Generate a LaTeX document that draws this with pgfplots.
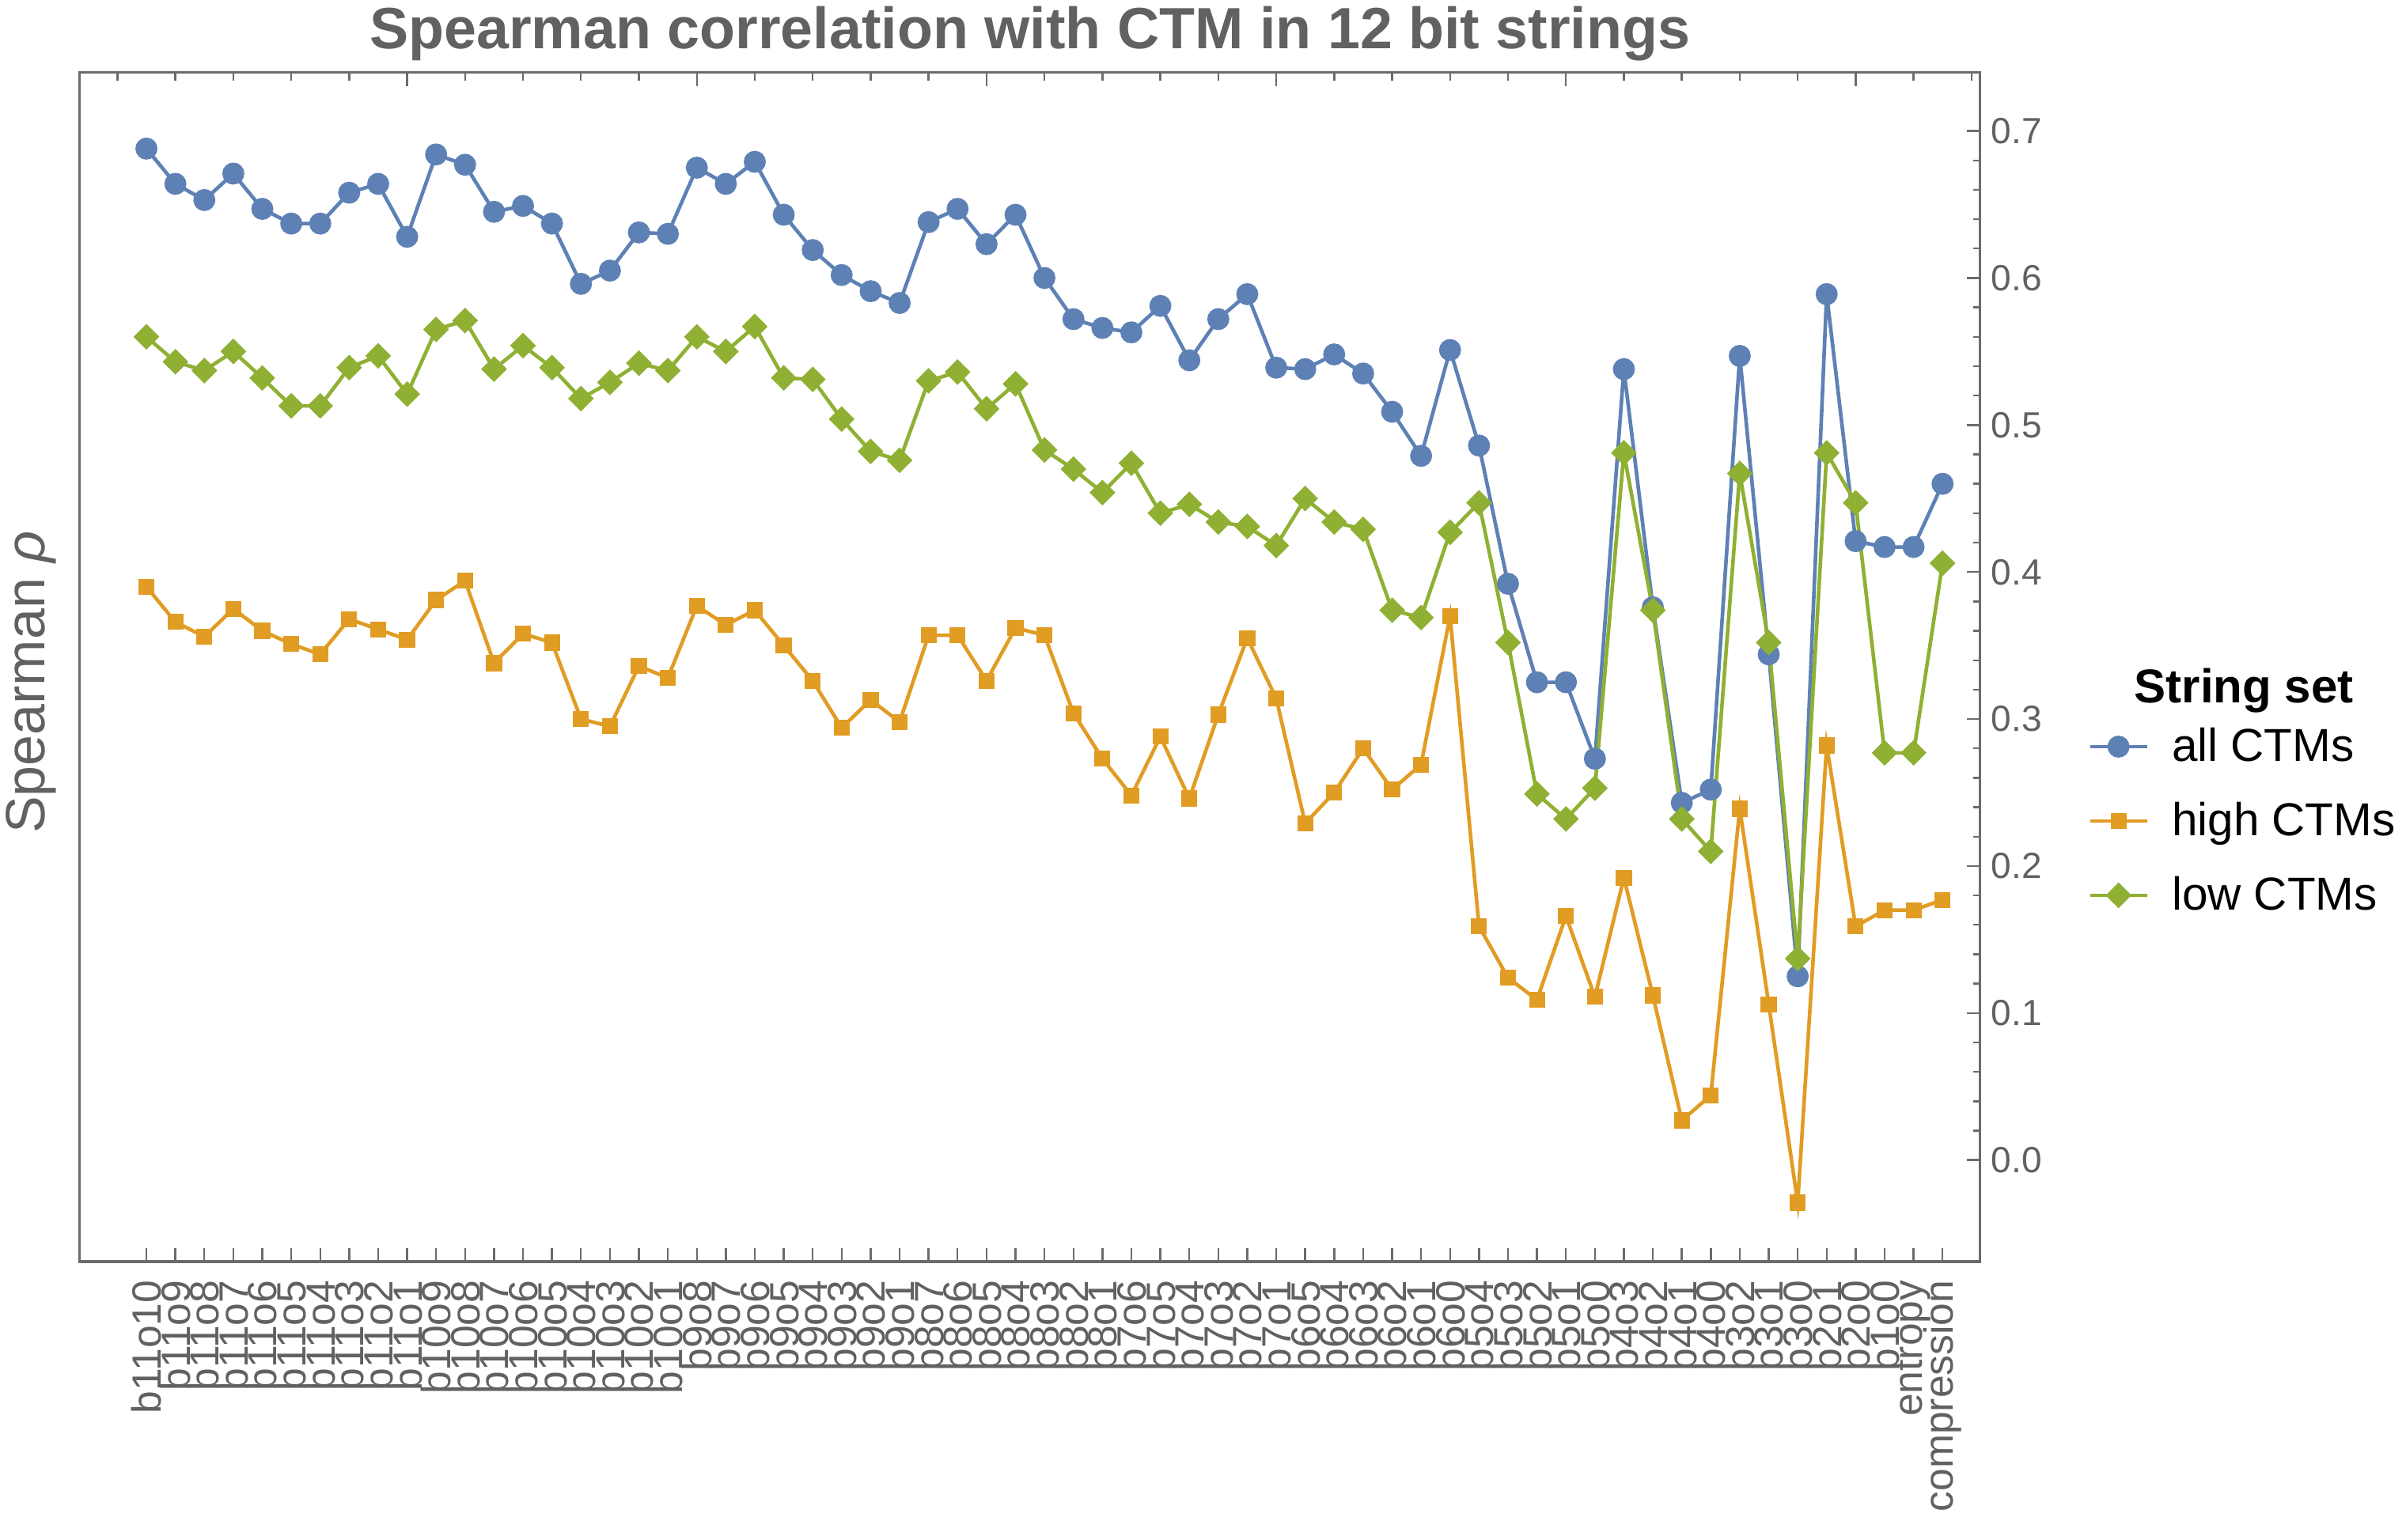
\documentclass[border=0pt]{standalone}
\usepackage{pgfplots}
\pgfplotsset{compat=1.18}
\usepackage{pgfplotstable}
\usepackage{fontspec}
\setmainfont{Liberation Sans}

\definecolor{mblue}{rgb}{0.368,0.507,0.710}
\definecolor{morange}{rgb}{0.881,0.611,0.142}
\definecolor{mgreen}{rgb}{0.560,0.692,0.195}
\definecolor{framegray}{gray}{0.42}
\definecolor{textgray}{gray}{0.38}

% Spearman rho per string set, one row per category (0 = b11o10 ... 62 = compression)
\pgfplotstableread{
idx all high low
0 0.688 0.390 0.560
1 0.664 0.366 0.543
2 0.653 0.356 0.537
3 0.671 0.375 0.550
4 0.647 0.360 0.532
5 0.637 0.351 0.513
6 0.637 0.344 0.513
7 0.658 0.368 0.539
8 0.664 0.361 0.547
9 0.628 0.354 0.521
10 0.684 0.381 0.565
11 0.677 0.394 0.571
12 0.645 0.338 0.538
13 0.649 0.358 0.554
14 0.637 0.352 0.539
15 0.596 0.300 0.518
16 0.605 0.295 0.529
17 0.631 0.336 0.542
18 0.630 0.328 0.537
19 0.675 0.377 0.560
20 0.664 0.364 0.550
21 0.679 0.374 0.567
22 0.643 0.350 0.532
23 0.619 0.326 0.531
24 0.602 0.294 0.504
25 0.591 0.313 0.482
26 0.583 0.298 0.476
27 0.638 0.357 0.530
28 0.647 0.357 0.536
29 0.623 0.326 0.511
30 0.643 0.362 0.528
31 0.600 0.357 0.483
32 0.572 0.304 0.470
33 0.566 0.273 0.454
34 0.563 0.248 0.474
35 0.581 0.288 0.440
36 0.544 0.246 0.446
37 0.572 0.303 0.434
38 0.589 0.355 0.431
39 0.539 0.314 0.418
40 0.538 0.229 0.450
41 0.548 0.250 0.434
42 0.535 0.280 0.429
43 0.509 0.252 0.374
44 0.479 0.269 0.369
45 0.551 0.370 0.427
46 0.486 0.159 0.447
47 0.392 0.124 0.352
48 0.325 0.109 0.249
49 0.325 0.166 0.232
50 0.273 0.111 0.253
51 0.538 0.192 0.481
52 0.376 0.112 0.374
53 0.243 0.027 0.232
54 0.252 0.044 0.210
55 0.547 0.239 0.467
56 0.344 0.106 0.352
57 0.125 -0.029 0.137
58 0.589 0.282 0.481
59 0.421 0.159 0.447
60 0.417 0.170 0.277
61 0.417 0.170 0.277
62 0.460 0.177 0.406
}\ctm

\begin{document}
\begin{tikzpicture}
\useasboundingbox (-25.2pt,-87.9pt) rectangle (734.8pt,398.6pt);

\begin{axis}[
    scale only axis,
    width=600.3pt, height=375.8pt,
    xmin=-2.3, xmax=63.3,
    ymin=-0.069, ymax=0.740,
    axis line style={framegray, line width=0.8pt},
    every tick/.style={framegray, line width=0.6pt},
    xtick pos=bottom,
    ytick pos=right,
    yticklabel pos=right,
    xtick={0,...,62},
    xticklabels={b11o10,b11o9,b11o8,b11o7,b11o6,b11o5,b11o4,b11o3,b11o2,b11o1,
        b10o9,b10o8,b10o7,b10o6,b10o5,b10o4,b10o3,b10o2,b10o1,
        b9o8,b9o7,b9o6,b9o5,b9o4,b9o3,b9o2,b9o1,
        b8o7,b8o6,b8o5,b8o4,b8o3,b8o2,b8o1,
        b7o6,b7o5,b7o4,b7o3,b7o2,b7o1,
        b6o5,b6o4,b6o3,b6o2,b6o1,b6o0,
        b5o4,b5o3,b5o2,b5o1,b5o0,
        b4o3,b4o2,b4o1,b4o0,
        b3o2,b3o1,b3o0,
        b2o1,b2o0,b1o0,entropy,compression},
    xticklabel style={rotate=90, anchor=east, font=\fontsize{12.9}{14}\selectfont, text=textgray},
    xticklabel shift=2.4pt,
    ytick={0,0.1,...,0.7},
    minor y tick num=4,
    yticklabel style={font=\fontsize{11.5}{14}\selectfont, text=textgray,
        /pgf/number format/.cd, fixed, fixed zerofill, precision=1},
    /pgf/number format/assume math mode=true,
    major tick length=4.2pt,
    minor tick length=2.2pt,
    ylabel={Spearman \textit{ρ}},
    ylabel style={at={(axis description cs:-0.0258,0.487)}, anchor=center,
        font=\fontsize{17.5}{20}\selectfont, text=textgray},
    title={Spearman correlation with CTM in 12 bit strings},
    title style={at={(axis description cs:0.5,1)}, anchor=center, yshift=6.1pt,
        font=\bfseries\fontsize{18.4}{21}\selectfont, text=textgray},
    legend style={at={(axis description cs:1.0515,0.3704)}, anchor=west,
        draw=none, fill=none, font=\fontsize{14.6}{17}\selectfont,
        row sep=7.4pt},
    legend cell align=left,
    legend image code/.code={
        \draw[mark repeat=2, mark phase=2] plot coordinates {(0pt,0pt) (9pt,0pt) (18pt,0pt)};
        \path (23.3pt,0pt);
    },
]
\addplot[mblue, line width=1.15pt, mark=*, mark size=2.9pt] table[x=idx, y=all] {\ctm};
\addlegendentry{all CTMs}
\addplot[morange, line width=1.15pt, mark=square*, mark size=1.95pt] table[x=idx, y=high] {\ctm};
\addlegendentry{high CTMs}
\addplot[mgreen, line width=1.15pt, mark=square*, mark size=2.3pt, mark options={rotate=45}] table[x=idx, y=low] {\ctm};
\addlegendentry{low CTMs}
\end{axis}

% unlabelled frame ticks along the top edge
\begin{axis}[
    scale only axis,
    width=600.3pt, height=375.8pt,
    xmin=-2.3, xmax=63.3,
    ymin=-0.069, ymax=0.740,
    axis x line*=top,
    hide y axis,
    axis line style={framegray, line width=0.8pt},
    every tick/.style={framegray, line width=0.6pt},
    xtick={9,19,29,39,49,59},
    minor xtick={-1,1,3,5,7,11,13,15,17,21,23,25,27,31,33,35,37,41,43,45,47,51,53,55,57,61,63},
    xticklabels={},
    major tick length=4.5pt,
    minor tick length=2.6pt,
]
\end{axis}

\node[font=\bfseries\fontsize{15}{18}\selectfont, anchor=center] at (683.6pt,180.4pt) {String set};
\end{tikzpicture}
\end{document}
